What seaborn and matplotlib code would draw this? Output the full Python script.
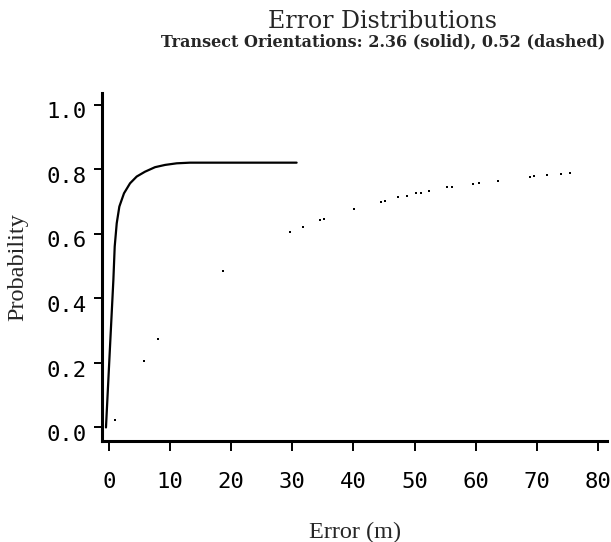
import matplotlib
matplotlib.use("Agg")
import matplotlib.pyplot as plt
import matplotlib.transforms as mtransforms
import seaborn as sns
import pandas as pd

# solid curve (orientation 2.36)
solid_x = [-0.5, 0.16, 0.71, 0.93, 1.26, 1.69, 2.45, 3.44, 4.53, 5.89,
           7.53, 9.17, 11.08, 13.26, 30.7]
solid_y = [0.0, 0.25, 0.457, 0.561, 0.633, 0.685, 0.726, 0.757, 0.778, 0.793,
           0.807, 0.814, 0.819, 0.821, 0.821]

# dashed curve (orientation 0.52) - only scattered dash fragments survive in the scan
dashed_x = [0.98, 5.78, 7.97, 18.71, 29.62, 31.81, 34.53, 35.24, 40.10, 44.52,
            45.17, 47.35, 48.72, 50.25, 51.01, 52.43, 55.27, 56.08, 59.62, 60.61,
            63.62, 68.9, 69.56, 71.73, 73.93, 75.40]
dashed_y = [0.023, 0.207, 0.273, 0.485, 0.605, 0.622, 0.643, 0.647, 0.678, 0.700,
            0.703, 0.715, 0.719, 0.726, 0.728, 0.732, 0.744, 0.746, 0.756, 0.758,
            0.765, 0.778, 0.780, 0.783, 0.787, 0.789]

x_ticks = [0, 10, 20, 30, 40, 50, 60, 70, 80]
y_ticks = [0.0, 0.2, 0.4, 0.6, 0.8, 1.0]

title = "Error Distributions"
subtitle = "Transect Orientations: 2.36 (solid), 0.52 (dashed)"

sns.set_style("ticks")

solid_df = pd.DataFrame({"Error": solid_x, "Probability": solid_y})
dashed_df = pd.DataFrame({"Error": dashed_x, "Probability": dashed_y})

f = plt.figure(figsize=(6.11, 5.42), dpi=100)
ax = f.add_axes([102 / 611, 1 - 441 / 542, 505 / 611, 348 / 542])

sns.lineplot(data=solid_df, x="Error", y="Probability", color="black",
             linewidth=1.6, sort=False, ax=ax)
sns.scatterplot(data=dashed_df, x="Error", y="Probability", color="black",
                marker="s", s=3, linewidth=0, ax=ax)

ax.set_xlim(-1.15, 81.5)
ax.set_ylim(-0.042, 1.037)
ax.set_xticks(x_ticks)
ax.set_yticks(y_ticks)
ax.set_xticklabels([str(t) for t in x_ticks])
ax.set_yticklabels(["%.1f" % t for t in y_ticks])

for side in ["top", "right"]:
    ax.spines[side].set_visible(False)
for side in ["left", "bottom"]:
    ax.spines[side].set_linewidth(2.2)
    ax.spines[side].set_color("black")

ax.tick_params(axis="x", direction="out", length=7, width=1.4, pad=15,
               colors="black")
ax.tick_params(axis="y", direction="out", length=6, width=1.4, pad=5,
               colors="black")
for lab in ax.get_xticklabels() + ax.get_yticklabels():
    lab.set_fontfamily("DejaVu Sans Mono")
    lab.set_fontsize(16)
offset = mtransforms.ScaledTranslation(0, -4 / 72, f.dpi_scale_trans)
for lab in ax.get_yticklabels():
    lab.set_transform(lab.get_transform() + offset)

ax.set_xlabel("Error (m)", fontfamily="Liberation Serif", fontsize=17.5,
              va="center")
ax.xaxis.set_label_coords(0.501, -0.262)
ax.set_ylabel("Probability", fontfamily="Liberation Serif", fontsize=17.5,
              va="center")
ax.yaxis.set_label_coords(-0.166, 0.5)

f.text(383 / 611, 1 - 21 / 542, title, fontfamily="DejaVu Serif",
       fontsize=17, ha="center", va="center")
f.text(383 / 611, 1 - 42 / 542, subtitle, fontfamily="DejaVu Serif",
       fontweight="bold", fontsize=11.5, ha="center", va="center")

f.savefig("out.png", dpi=100, facecolor="white")
plt.close(f)
